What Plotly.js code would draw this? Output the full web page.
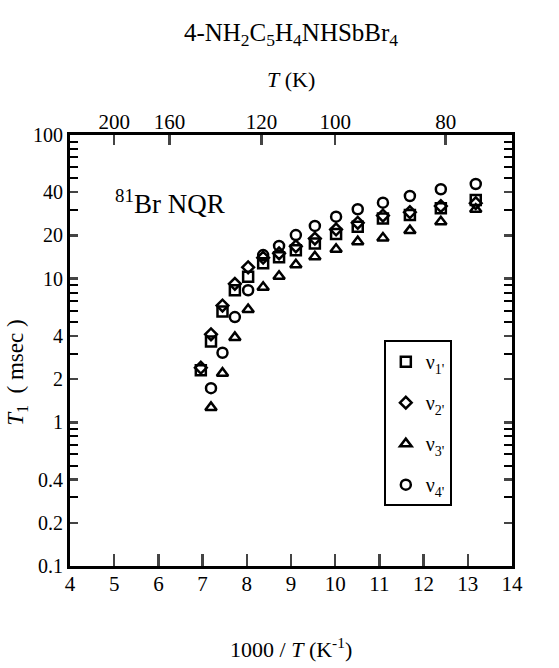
<!DOCTYPE html>
<html>
<head>
<meta charset="utf-8">
<script src="https://cdn.plot.ly/plotly-3.0.1.min.js"></script>
<style>html,body{margin:0;padding:0;background:#fff;}#chart{width:559px;height:668px;}</style>
</head>
<body>
<div id="chart"></div>
<script>
// 1000/T (K^-1) for each measured column
const xV12 = [6.96, 7.19, 7.45, 7.73, 8.03, 8.37, 8.73, 9.11, 9.54, 10.02, 10.51, 11.08, 11.69, 12.39, 13.18];
const xV34 = [7.19, 7.45, 7.73, 8.03, 8.37, 8.73, 9.11, 9.54, 10.02, 10.51, 11.08, 11.69, 12.39, 13.18];
// T1 (msec)
const v1 = [2.3, 3.65, 5.9, 8.3, 10.3, 12.8, 14.1, 15.8, 17.6, 20.5, 23.0, 26.2, 27.7, 30.9, 35.3];
const v2 = [2.4, 4.1, 6.5, 9.2, 12.0, 14.0, 15.0, 16.8, 19.0, 22.0, 24.5, 27.5, 29.0, 32.0, 33.5];
const v3 = [1.27, 2.2, 3.9, 6.1, 8.7, 10.4, 12.5, 14.2, 16.0, 18.1, 19.2, 21.6, 24.9, 30.4];
const v4 = [1.73, 3.05, 5.4, 8.3, 14.6, 16.9, 20.1, 23.3, 27.0, 30.4, 33.8, 37.6, 41.9, 45.6];
const seriesNames = ["ν<sub>1'</sub>", "ν<sub>2'</sub>", "ν<sub>3'</sub>", "ν<sub>4'</sub>"];
// axis ticks
const xTicks = [4, 5, 6, 7, 8, 9, 10, 11, 12, 13, 14];
const topT = [200, 160, 120, 100, 80];
const yTicks = [0.1, 0.2, 0.4, 1, 2, 4, 10, 20, 40, 100];
const yTickText = ["0.1", "0.2", "0.4", "1", "2", "4", "10", "20", "40", "100"];
const yMinor = [0.3, 0.5, 0.6, 0.7, 0.8, 0.9, 3, 5, 6, 7, 8, 9, 30, 50, 60, 70, 80, 90];

const serif = "Liberation Serif";
function mk(x, y, name, symbol, size, grp) {
  return {
    x: x, y: y, name: name, type: 'scatter', mode: 'markers', legendgroup: grp,
    marker: {symbol: symbol, size: size, color: 'black', line: {color: 'black', width: 2.5}},
    hoverinfo: 'x+y'
  };
}
const traces = [
  mk(xV12, v1, seriesNames[0], 'square-open', 10, 'a'),
  mk(xV12, v2, seriesNames[1], 'diamond-open', 9, 'b'),
  mk(xV34, v3, seriesNames[2], 'triangle-up-open', 10, 'c'),
  mk(xV34, v4, seriesNames[3], 'circle-open', 10, 'd'),
  {x: xV12, y: v1, xaxis: 'x2', type: 'scatter', mode: 'markers', marker: {opacity: 0}, showlegend: false, hoverinfo: 'skip'}
];

const layout = {
  width: 559, height: 668,
  margin: {l: 70, r: 47, t: 135, b: 102},
  paper_bgcolor: 'white', plot_bgcolor: 'white',
  font: {family: serif, color: 'black', size: 20},
  title: {text: '4-NH<sub>2</sub>C<sub>5</sub>H<sub>4</sub>NHSbBr<sub>4</sub>', font: {family: serif, size: 25, color: 'black'},
          xref: 'paper', x: 0.5, xanchor: 'center', yref: 'container', y: 0.952, yanchor: 'middle'},
  xaxis: {
    range: [4, 14], tickmode: 'array', tickvals: xTicks, ticks: 'inside', ticklen: 12, tickwidth: 2.5,
    showline: true, linewidth: 3, linecolor: 'black', mirror: true, showgrid: false, zeroline: false,
    tickfont: {family: serif, size: 21, color: 'black'}, ticklabelstandoff: -3
  },
  xaxis2: {
    overlaying: 'x', side: 'top', range: [4, 14], tickmode: 'array',
    tickvals: topT.map(t => 1000 / t), ticktext: topT.map(String),
    ticks: 'inside', ticklen: 10, tickwidth: 2.5, showline: false, showgrid: false, zeroline: false,
    tickfont: {family: serif, size: 21, color: 'black'}, ticklabelstandoff: 1
  },
  yaxis: {
    type: 'log', range: [-1, 2], tickmode: 'array', tickvals: yTicks, ticktext: yTickText,
    ticks: 'inside', ticklen: 8, tickwidth: 2.5,
    minor: {tickmode: 'array', tickvals: yMinor, ticks: 'inside', ticklen: 4, tickwidth: 2, tickcolor: 'black'},
    showline: true, linewidth: 3, linecolor: 'black', mirror: 'allticks', showgrid: false, zeroline: false,
    tickfont: {family: serif, size: 20, color: 'black'}
  },
  showlegend: true,
  legend: {
    x: 0.71, y: 0.524, xanchor: 'left', yanchor: 'top', traceorder: 'grouped', tracegroupgap: 12,
    bordercolor: 'black', borderwidth: 2, bgcolor: 'white',
    font: {family: serif, size: 20, color: 'black'}, itemwidth: 30
  },
  annotations: [
    {text: '<i>T</i> (K)', xref: 'paper', yref: 'paper', x: 0.5, y: 1.128, xanchor: 'center', yanchor: 'middle',
     showarrow: false, font: {family: serif, size: 22, color: 'black'}},
    {text: '1000 / <i>T</i> (K<sup>-1</sup>)', xref: 'paper', yref: 'paper', x: 0.5, y: -0.19, xanchor: 'center', yanchor: 'middle',
     showarrow: false, font: {family: serif, size: 22, color: 'black'}},
    {text: '<i>T</i><sub>1</sub>  ( msec )', xref: 'paper', yref: 'paper', x: -0.12, y: 0.448, xanchor: 'center', yanchor: 'middle',
     textangle: -90, showarrow: false, font: {family: serif, size: 23, color: 'black'}},
    {text: '<sup>81</sup>Br NQR', xref: 'paper', yref: 'paper', x: 0.097, y: 0.845, xanchor: 'left', yanchor: 'middle',
     showarrow: false, font: {family: serif, size: 27, color: 'black'}}
  ]
};
Plotly.newPlot('chart', traces, layout, {displayModeBar: false, staticPlot: true});
</script>
</body>
</html>
